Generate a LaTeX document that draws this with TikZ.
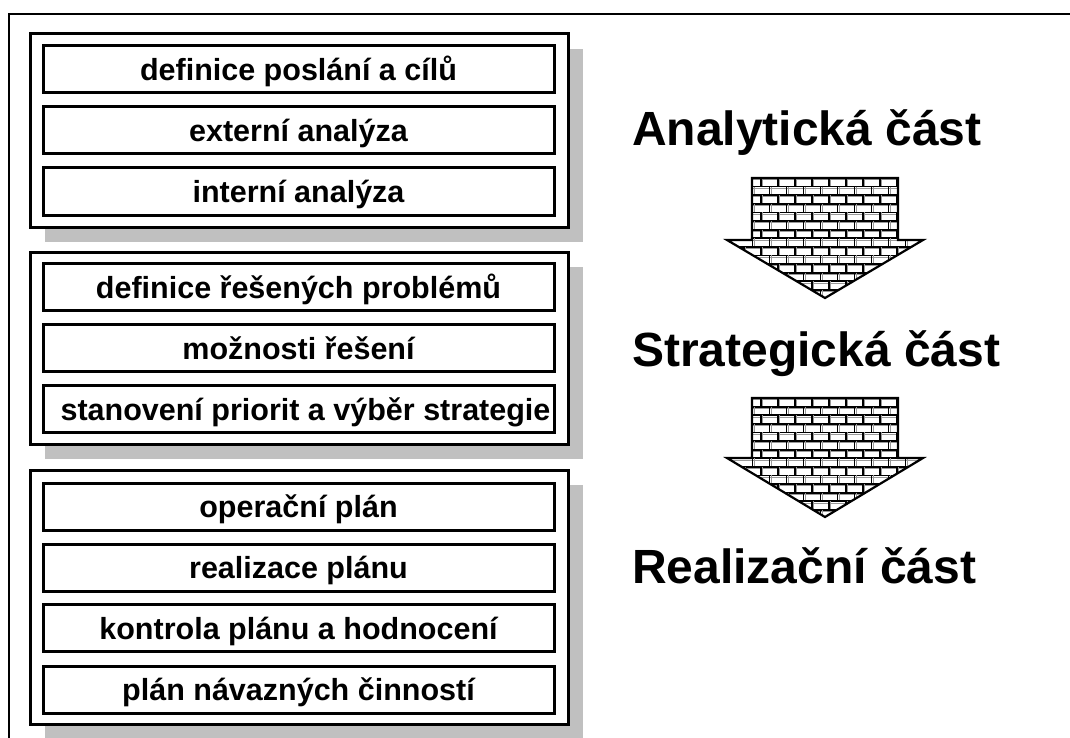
\documentclass[tikz,border=0pt]{standalone}
\usepackage{fontspec}
\setmainfont{Liberation Sans}
\usetikzlibrary{shadows}
\definecolor{shadowgray}{RGB}{192,192,192}
\newcommand{\brickarrow}[3]{%
  % #1 shaft top, #2 head base, #3 tip
  \begin{scope}
    \clip (752,#1) -- (898,#1) -- (898,#2) -- (923,#2) -- (825,#3) -- (727,#2) -- (752,#2) -- cycle;
    \fill[white] (720,#1) rectangle (930,#3);
    \foreach \r in {0,...,15} {
      \pgfmathsetmacro{\yy}{#1+\r*8.6}
      \pgfmathsetmacro{\yb}{\yy+8.6}
      \pgfmathsetmacro{\off}{mod(\r,2)*8.5}
      \draw[mortarshade] (720,\yy+1.8) -- (930,\yy+1.8);
      \draw[mortar] (720,\yy) -- (930,\yy);
      \foreach \c in {0,...,12} {
        \pgfmathsetmacro{\xx}{744+\off+\c*17}
        \draw[mortarshade] (\xx+1.8,\yy) -- (\xx+1.8,\yb);
        \draw[mortar] (\xx,\yy) -- (\xx,\yb);
      }
    }
  \end{scope}
  \draw[arrowedge] (752,#1) -- (898,#1) -- (898,#2) -- (923,#2) -- (825,#3) -- (727,#2) -- (752,#2) -- cycle;
}
\begin{document}
\begin{tikzpicture}[x=1pt,y=-1pt,
  grp/.style={draw=black, line width=3pt, fill=white, rectangle, inner sep=0pt,
    minimum width=538pt,
    drop shadow={shadow xshift=15pt, shadow yshift=-15pt, opacity=1, fill=shadowgray, draw=none}},
  item/.style={draw=black, line width=3pt, fill=white, rectangle, inner sep=0pt,
    minimum width=511pt, minimum height=47pt,
    font=\fontsize{30.5}{34}\selectfont\bfseries, text height=25pt, text depth=3pt},
  phase/.style={anchor=base west, inner sep=0pt, font=\fontsize{48}{56}\selectfont\bfseries},
  mortar/.style={line width=1.8pt, black},
  mortarshade/.style={line width=1pt, black!40},
  arrowedge/.style={draw=black, line width=2.2pt, line join=miter},
  frameline/.style={draw=black, line width=2.5pt}]
\useasboundingbox (0,0) rectangle (1070,738);
\fill[white] (0,0) rectangle (1070,738);

% outer frame (only top and left edges visible)
\draw[frameline] (9,738) -- (9,14) -- (1070,14);

% group 1
\node[grp, minimum height=193pt] (g1) at (299,130.5) {};
\node[item] (a1) at (298.5,69.5) {definice poslání a cílů};
\node[item] (a2) at (298.5,130.5) {externí analýza};
\node[item] (a3) at (298.5,191.5) {interní analýza};

% group 2
\node[grp, minimum height=192pt] (g2) at (299,348) {};
\node[item] (b1) at (298.5,287) {definice řešených problémů};
\node[item] (b2) at (298.5,348) {možnosti řešení};
\node[item] (b3) at (298.5,409) {\hspace*{14pt}stanovení priorit a výběr strategie};

% group 3
\node[grp, minimum height=254pt] (g3) at (299,597) {};
\node[item] (c1) at (298.5,506.5) {operační plán};
\node[item] (c2) at (298.5,567.5) {realizace plánu};
\node[item] (c3) at (298.5,628) {kontrola plánu a hodnocení};
\node[item] (c4) at (298.5,689.5) {plán návazných činností};

% phases
\node[phase] (p1) at (632,146) {Analytická část};
\node[phase] (p2) at (632,366) {Strategická část};
\node[phase] (p3) at (632,583) {Realizační část};

% brick arrows
\brickarrow{178}{240}{298}
\brickarrow{398}{458}{517}
\end{tikzpicture}
\end{document}
